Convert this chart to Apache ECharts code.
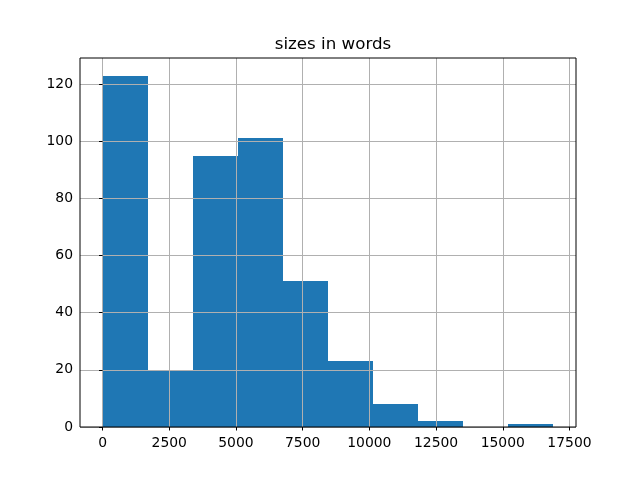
<!DOCTYPE html>
<html><head><meta charset="utf-8">
<script src="https://cdn.jsdelivr.net/npm/echarts@6/dist/echarts.min.js"></script>
<style>html,body{margin:0;padding:0;background:#fff}#c{width:640px;height:480px}</style>
</head><body><div id="c"></div>
<script>
const binEdges = [0, 1690, 3380, 5070, 6760, 8450, 10140, 11830, 13520, 15210, 16900];
const counts = [123, 20, 95, 101, 51, 23, 8, 2, 0, 1];
const xTicks = [0, 2500, 5000, 7500, 10000, 12500, 15000, 17500];
const yTicks = [0, 20, 40, 60, 80, 100, 120];

const data = counts.map((c, i) => [binEdges[i], binEdges[i + 1], c]);
const chart = echarts.init(document.getElementById('c'));
const font = 'DejaVu Sans';
chart.setOption({
  animation: false,
  title: { text: 'sizes in words', left: 328, top: 31, textAlign: 'center',
    textStyle: { fontFamily: font, fontSize: 16.7, fontWeight: 'normal', color: '#000' } },
  grid: { left: 80, right: 64, top: 58, bottom: 53, show: true, borderColor: '#000', borderWidth: 1, backgroundColor: 'transparent', z: 5 },
  xAxis: {
    type: 'value', min: -845, max: 17745, z: 4,
    axisLine: { show: false },
    axisTick: { show: true, length: 3.5, lineStyle: { color: '#000' }, customValues: xTicks },
    axisLabel: { fontFamily: font, fontSize: 13.9, color: '#000', margin: 9, customValues: xTicks,
      formatter: v => String(v) },
    splitLine: { show: true, lineStyle: { color: '#b0b0b0', width: 1 } },
    interval: 2500
  },
  yAxis: {
    type: 'value', min: 0, max: 129.15, z: 4,
    axisLine: { show: false },
    axisTick: { show: true, length: 3.5, lineStyle: { color: '#000' }, customValues: yTicks },
    axisLabel: { fontFamily: font, fontSize: 13.9, color: '#000', margin: 7, customValues: yTicks,
      formatter: v => String(v) },
    splitLine: { show: true, lineStyle: { color: '#b0b0b0', width: 1 } },
    interval: 20
  },
  series: [{
    type: 'custom', z: 1,
    data: data,
    encode: { x: [0, 1], y: 2 },
    renderItem: function (params, api) {
      const p0 = api.coord([api.value(0), api.value(2)]);
      const p1 = api.coord([api.value(1), 0]);
      const x0 = Math.round(p0[0]), x1 = Math.round(p1[0]);
      const y0 = Math.round(p0[1]), y1 = Math.round(p1[1]);
      return { type: 'rect', shape: { x: x0, y: y0, width: x1 - x0, height: y1 - y0 },
        style: { fill: '#1f77b4', stroke: null, lineWidth: 0 } };
    }
  }]
});
</script></body></html>
